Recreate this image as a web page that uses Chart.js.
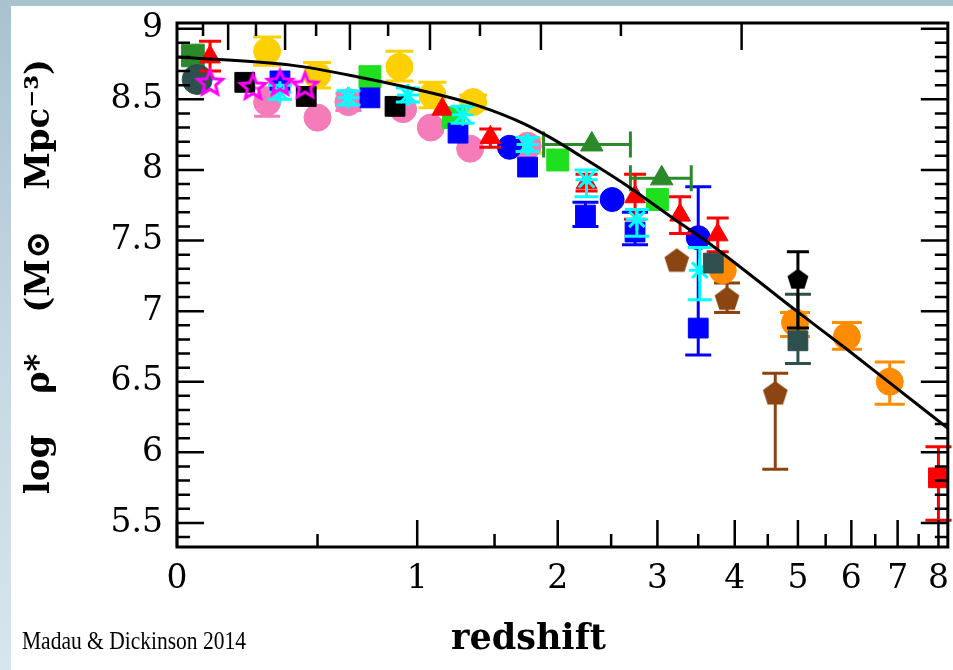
<!DOCTYPE html>
<html><head><meta charset="utf-8">
<script src="https://cdn.jsdelivr.net/npm/chart.js@4.4.1/dist/chart.umd.min.js"></script>
<style>
html,body{margin:0;padding:0;}
body{width:953px;height:670px;position:relative;overflow:hidden;background:linear-gradient(180deg,#a9c2d0 0%,#c4d7e2 50%,#d6e5ee 100%);}
#panel{position:absolute;left:11px;top:6px;right:0;bottom:0;background:#fff;}
#c{position:absolute;left:0;top:0;}
#credit{position:absolute;left:22px;top:628px;font-family:"Liberation Serif",serif;font-size:25px;line-height:1;color:#000;white-space:nowrap;transform:scaleX(0.86);transform-origin:0 0;}
</style></head><body>
<div id="panel"></div>
<canvas id="c" width="953" height="670"></canvas>
<div id="credit">Madau &amp; Dickinson 2014</div>
<script>
// ---- axis ticks ----
const xTickZ = [0,1,2,3,4,5,6,7,8];
const xTickLabels = ['0','1','2','3','4','5','6','7','8'];
const xMinorZ = [0.5,1.5,2.5,3.5,4.5,5.5,6.5,7.5];
const topTickGyr = [1,2,3,4,5,6,7,8,9,10,11,12];
const topTickZ = [0.078,0.159,0.256,0.366,0.494,0.647,0.839,1.075,1.397,1.858,2.60,4.10];
const yTickValues = [5.5,6,6.5,7,7.5,8,8.5,9];

// ---- best-fit curve ----
const curveZ      = [0, 0.397, 0.681, 1.136, 1.398, 1.715, 1.934, 2.20, 2.66, 3.18, 3.62, 4.98, 5.91, 6.83, 8.25];
const curveLogRho = [8.80, 8.74, 8.66, 8.53, 8.45, 8.33, 8.23, 8.10, 7.89, 7.66, 7.49, 7.00, 6.73, 6.49, 6.17];

// ---- data series: z, log rho, lower, upper ----
const goldZ  = [0.297, 0.498, 0.90, 1.09, 1.35, 1.75];
const goldV  = [8.84, 8.67, 8.73, 8.53, 8.48, 8.17];
const goldLo = [8.74, 8.58, 8.63, 8.44, 8.43, 8.12];
const goldHi = [8.94, 8.76, 8.84, 8.62, 8.53, 8.22];

const pinkZ  = [0.297, 0.50, 0.64, 0.92, 1.08, 1.33, 1.75];
const pinkV  = [8.48, 8.37, 8.48, 8.43, 8.30, 8.15, 8.17];
const pinkLo = [8.38, null, 8.42, null, null, null, null];
const pinkHi = [8.58, null, 8.54, null, null, null, null];

const limeZ = [0.745, 1.22, 2.0, 3.0];
const limeV = [8.66, 8.37, 8.07, 7.79];

const dkGreenSqZ = [0.047];
const dkGreenSqV = [8.81];

const slateCircZ = [0.06];
const slateCircV = [8.64];

const blackSqZ = [0.216, 0.452, 0.876];
const blackSqV = [8.62, 8.52, 8.45];

const blueSqZ  = [0.346, 0.745, 1.25, 1.75, 2.25, 2.75, 3.5];
const blueSqV  = [8.63, 8.51, 8.26, 8.02, 7.68, 7.56, 6.88];
const blueSqLo = [null, null, null, null, 7.60, 7.47, 6.69];
const blueSqHi = [null, null, null, null, 7.77, 7.70, 7.88];

const blueCircZ = [1.61, 2.51, 3.5];
const blueCircV = [8.16, 7.79, 7.52];

const redTriZ  = [0.10, 1.15, 1.47, 2.26, 2.75, 3.27, 3.76];
const redTriV  = [8.80, 8.43, 8.23, 7.91, 7.81, 7.68, 7.54];
const redTriLo = [8.70, null, 8.16, 7.85, 7.65, 7.55, 7.42];
const redTriHi = [8.91, null, 8.29, 7.97, 7.97, 7.81, 7.66];

const dkGreenTriZ   = [2.31, 3.05];
const dkGreenTriV   = [8.18, 7.94];
const dkGreenTriZLo = [1.88, 2.70];
const dkGreenTriZHi = [2.70, 3.41];

const cyanZ  = [0.346, 0.64, 0.947, 1.28, 1.75, 2.26, 2.77, 3.52];
const cyanV  = [8.55, 8.51, 8.53, 8.39, 8.18, 7.93, 7.65, 7.29];
const cyanLo = [8.50, 8.46, 8.48, 8.33, 8.13, 7.81, 7.53, 7.08];
const cyanHi = [8.60, 8.56, 8.58, 8.45, 8.23, 8.00, 7.72, 7.45];

const magentaZ = [0.10, 0.245, 0.346, 0.447];
const magentaV = [8.62, 8.59, 8.62, 8.60];

const brownZ  = [3.23, 3.89, 4.62];
const brownV  = [7.36, 7.09, 6.42];
const brownLo = [null, 6.99, 5.88];
const brownHi = [null, 7.20, 6.56];

const orangeZ  = [3.83, 4.95, 5.91, 6.82];
const orangeV  = [7.29, 6.92, 6.82, 6.50];
const orangeLo = [null, 6.82, 6.73, 6.34];
const orangeHi = [null, 6.99, 6.92, 6.64];

const slateSqZ  = [3.7, 5.0];
const slateSqV  = [7.34, 6.79];
const slateSqLo = [null, 6.63];
const slateSqHi = [null, 7.12];

const blackPentZ  = [5.0];
const blackPentV  = [7.23];
const blackPentLo = [6.88];
const blackPentHi = [7.42];

const redSqZ  = [8.0];
const redSqV  = [5.82];
const redSqLo = [5.52];
const redSqHi = [6.04];

// ---- helpers ----
const lx = z => Math.log10(1 + z);
function pts(z, v, lo, hi, zlo, zhi) {
  return z.map((zz, i) => ({
    x: lx(zz), y: v[i],
    yLo: lo ? lo[i] : null, yHi: hi ? hi[i] : null,
    xLo: zlo ? lx(zlo[i]) : null, xHi: zhi ? lx(zhi[i]) : null
  }));
}
function starCanvas(r, color, lw) {
  const s = Math.ceil(2 * r + lw + 4), c = document.createElement('canvas');
  c.width = s; c.height = s;
  const g = c.getContext('2d'); g.translate(s / 2, s / 2 + 1);
  g.beginPath();
  for (let i = 0; i < 10; i++) {
    const a = -Math.PI / 2 + i * Math.PI / 5, rr = i % 2 ? r * 0.45 : r;
    const px = rr * Math.cos(a), py = rr * Math.sin(a);
    i ? g.lineTo(px, py) : g.moveTo(px, py);
  }
  g.closePath(); g.strokeStyle = color; g.lineWidth = lw; g.lineJoin = 'miter'; g.stroke();
  return c;
}
function pentCanvas(r, color) {
  const s = Math.ceil(2 * r + 4), c = document.createElement('canvas');
  c.width = s; c.height = s;
  const g = c.getContext('2d'); g.translate(s / 2, s / 2 + 1);
  g.beginPath();
  for (let i = 0; i < 5; i++) {
    const a = -Math.PI / 2 + i * 2 * Math.PI / 5;
    i ? g.lineTo(r * Math.cos(a), r * Math.sin(a)) : g.moveTo(r * Math.cos(a), r * Math.sin(a));
  }
  g.closePath(); g.fillStyle = color; g.fill();
  return c;
}

const C = {
  gold: '#fcd003', pink: '#f57cb8', lime: '#1ee01e', dkgreen: '#2a8a2a', slate: '#2f4f4f',
  black: '#000000', blue: '#0000ff', red: '#ff0000', cyan: '#00ffff', magenta: '#ff00ff',
  brown: '#8b4513', orange: '#ff8c00'
};

function sds(label, data, color, style, radius, cap, extra) {
  return Object.assign({
    type: 'scatter', label, data, pointStyle: style, pointRadius: radius, pointHoverRadius: radius,
    backgroundColor: color, borderColor: color, pointBorderWidth: 1, errColor: color, capW: cap
  }, extra || {});
}

const list = [
  sds('gold', pts(goldZ, goldV, goldLo, goldHi), C.gold, 'circle', 13.5, 28),
  sds('pink', pts(pinkZ, pinkV, pinkLo, pinkHi), C.pink, 'circle', 13.5, 26),
  sds('lime', pts(limeZ, limeV), C.lime, 'rect', 15.5, 20),
  sds('dkgreensq', pts(dkGreenSqZ, dkGreenSqV), C.dkgreen, 'rect', 16, 20),
  sds('slatecirc', pts(slateCircZ, slateCircV), C.slate, 'circle', 15, 20),
  sds('blacksq', pts(blackSqZ, blackSqV), C.black, 'rect', 14, 20),
  sds('bluesq', pts(blueSqZ, blueSqV, blueSqLo, blueSqHi), C.blue, 'rect', 14, 26),
  sds('bluecirc', pts(blueCircZ, blueCircV), C.blue, 'circle', 12, 20),
  sds('redtri', pts(redTriZ, redTriV, redTriLo, redTriHi), C.red, 'triangle', 12, 22),
  sds('dkgreentri', pts(dkGreenTriZ, dkGreenTriV, null, null, dkGreenTriZLo, dkGreenTriZHi), C.dkgreen, 'triangle', 13, 24),
  sds('cyan', pts(cyanZ, cyanV, cyanLo, cyanHi), C.cyan, 'star', 11, 24, {pointBorderWidth: 3}),
  sds('magenta', pts(magentaZ, magentaV), C.magenta, starCanvas(13, C.magenta, 3), 12, 20),
  sds('brown', pts(brownZ, brownV, brownLo, brownHi), C.brown, pentCanvas(13, C.brown), 12, 26),
  sds('orange', pts(orangeZ, orangeV, orangeLo, orangeHi), C.orange, 'circle', 13.5, 30),
  sds('slatesq', pts(slateSqZ, slateSqV, slateSqLo, slateSqHi), C.slate, 'rect', 14, 26),
  sds('blackpent', pts(blackPentZ, blackPentV, blackPentLo, blackPentHi), C.black, pentCanvas(11, C.black), 10, 22),
  sds('redsq', pts(redSqZ, redSqV, redSqLo, redSqHi), C.red, 'rect', 14, 26)
];
const N = list.length;
list.forEach((d, i) => { d.order = N - i + 1; });
const datasets = [{
  type: 'line', label: 'fit', data: curveZ.map((z, i) => ({x: lx(z), y: curveLogRho[i]})),
  borderColor: '#000', borderWidth: 3, pointRadius: 0, fill: false, cubicInterpolationMode: 'monotone', order: 0
}].concat(list);

const errorBars = {
  id: 'errorBars',
  beforeDatasetDraw(chart, args) {
    const ds = chart.data.datasets[args.index];
    if (!ds.errColor) return;
    const xs = chart.scales.x, ys = chart.scales.y, g = chart.ctx;
    g.save(); g.strokeStyle = ds.errColor; g.lineWidth = 3; g.lineCap = 'butt';
    ds.data.forEach(p => {
      const px = xs.getPixelForValue(p.x), py = ys.getPixelForValue(p.y);
      const hw = ds.capW / 2;
      if (p.yLo != null) {
        const a = ys.getPixelForValue(p.yLo), b = ys.getPixelForValue(p.yHi);
        g.beginPath(); g.moveTo(px, a); g.lineTo(px, b);
        g.moveTo(px - hw, a); g.lineTo(px + hw, a);
        g.moveTo(px - hw, b); g.lineTo(px + hw, b); g.stroke();
      }
      if (p.xLo != null) {
        const a = xs.getPixelForValue(p.xLo), b = xs.getPixelForValue(p.xHi);
        g.beginPath(); g.moveTo(a, py); g.lineTo(b, py);
        g.moveTo(a, py - 13); g.lineTo(a, py + 13);
        g.moveTo(b, py - 13); g.lineTo(b, py + 13); g.stroke();
      }
    });
    g.restore();
  }
};

const frame = {
  id: 'frame',
  afterDatasetsDraw(chart) {
    const a = chart.chartArea, xs = chart.scales.x, ys = chart.scales.y, g = chart.ctx;
    g.save(); g.strokeStyle = '#000'; g.lineCap = 'butt';
    const L = 27, S = 13;
    g.lineWidth = 2.5;
    g.beginPath();
    xTickZ.forEach(z => { const p = xs.getPixelForValue(lx(z)); g.moveTo(p, a.bottom); g.lineTo(p, a.bottom - L); });
    xMinorZ.forEach(z => { const p = xs.getPixelForValue(lx(z)); g.moveTo(p, a.bottom); g.lineTo(p, a.bottom - S); });
    topTickZ.forEach((z, i) => { const p = xs.getPixelForValue(lx(z)); const len = topTickGyr[i] % 2 === 0 ? L : S; g.moveTo(p, a.top); g.lineTo(p, a.top + len); });
    for (let k = 54; k <= 90; k++) {
      const v = k / 10; const p = ys.getPixelForValue(v);
      const len = (k % 5 === 0) ? L : S;
      g.moveTo(a.left, p); g.lineTo(a.left + len, p);
      g.moveTo(a.right, p); g.lineTo(a.right - len, p);
    }
    g.stroke();
    g.lineWidth = 3;
    g.strokeRect(a.left, a.top, a.right - a.left, a.bottom - a.top);
    g.restore();
  }
};

const yTickFont = {family: 'DejaVu Serif', size: 33};
const xTickFont = {family: 'DejaVu Serif', size: 33, lineHeight: 1.75};
const NB = '\u00a0', EM = '\u2003', TH = '\u2009', EN = '\u2002';
new Chart(document.getElementById('c'), {
  type: 'scatter',
  data: {datasets},
  options: {
    responsive: false, animation: false, devicePixelRatio: 1,
    layout: {autoPadding: false, padding: {top: 23, right: 5, left: 0, bottom: 0}},
    plugins: {legend: {display: false}, tooltip: {enabled: false}},
    scales: {
      x: {
        type: 'linear', min: 0, max: 0.966,
        afterBuildTicks: s => { s.ticks = xTickZ.map(z => ({value: lx(z)})); },
        afterFit: s => { s.height = 123; },
        ticks: {callback: (v, i) => xTickLabels[i], font: xTickFont, color: '#000', padding: 4, maxRotation: 0, autoSkip: false},
        grid: {display: false, drawTicks: false}, border: {display: false},
        title: {display: true, text: 'redshift' + NB.repeat(5) + TH, font: {family: 'DejaVu Serif', size: 35, weight: 'bold'}, color: '#000', padding: {top: 0, bottom: 9}}
      },
      y: {
        type: 'linear', min: 5.33, max: 9.04,
        afterBuildTicks: s => { s.ticks = yTickValues.map(v => ({value: v})); },
        afterFit: s => { s.width = 177; s.paddingTop = 0; s.paddingBottom = 0; },
        ticks: {callback: v => String(v), font: yTickFont, color: '#000', padding: 14, autoSkip: false},
        grid: {display: false, drawTicks: false}, border: {display: false},
        title: {display: true, text: EN + 'log' + EM + TH + 'ρ*' + EM + TH + '(M⊙' + EM + TH + 'Mpc⁻³)', font: {family: 'DejaVu Serif', size: 34, weight: 'bold'}, color: '#000', padding: {top: 20, bottom: 0}}
      }
    }
  },
  plugins: [errorBars, frame]
});
</script></body></html>
